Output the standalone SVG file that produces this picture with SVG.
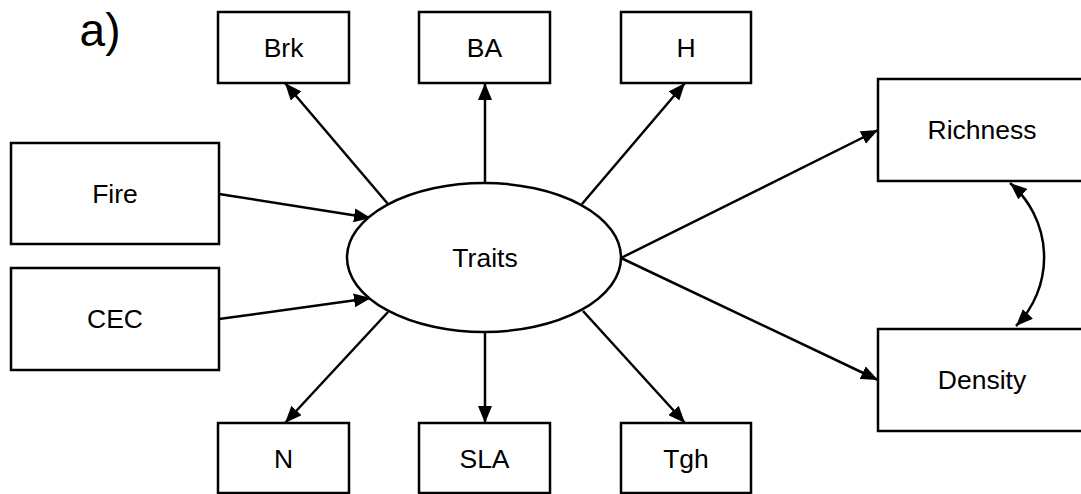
<svg xmlns="http://www.w3.org/2000/svg" width="1081" height="494" viewBox="0 0 1081 494">
  <style>
    .box { fill: #fff; stroke: #000; stroke-width: 2.5; }
    .lbl { font-family: "Liberation Sans", Arial, sans-serif; font-size: 26.5px; fill: #000; text-anchor: middle; }
    .edge { fill: none; stroke: #000; stroke-width: 2.5; }
  </style>
  <defs>
    <marker id="arrow" markerUnits="userSpaceOnUse" markerWidth="18" markerHeight="14" viewBox="0 0 18 14" refX="17" refY="7" orient="auto-start-reverse">
      <path d="M0,0 L17,7 L0,14 z" fill="#000"/>
    </marker>
  </defs>
  <rect width="1081" height="494" fill="#fff"/>

  <text x="100" y="46" font-family="Liberation Sans, Arial, sans-serif" font-size="46" fill="#000" text-anchor="middle">a)</text>

  <g id="connectors">
    <line class="edge" x1="388" y1="204" x2="285" y2="83" marker-end="url(#arrow)"/>
    <line class="edge" x1="485" y1="183" x2="485" y2="83" marker-end="url(#arrow)"/>
    <line class="edge" x1="582" y1="204" x2="685" y2="83" marker-end="url(#arrow)"/>
    <line class="edge" x1="219" y1="194" x2="371" y2="218" marker-end="url(#arrow)"/>
    <line class="edge" x1="219" y1="319" x2="371" y2="298" marker-end="url(#arrow)"/>
    <line class="edge" x1="388" y1="312" x2="285" y2="423" marker-end="url(#arrow)"/>
    <line class="edge" x1="485" y1="332" x2="485" y2="423" marker-end="url(#arrow)"/>
    <line class="edge" x1="583" y1="311" x2="685" y2="423" marker-end="url(#arrow)"/>
    <line class="edge" x1="621" y1="258" x2="878" y2="130" marker-end="url(#arrow)"/>
    <line class="edge" x1="621" y1="258" x2="878" y2="380" marker-end="url(#arrow)"/>
    <path class="edge" d="M1010,183 A98,98 0 0 1 1016,326" marker-start="url(#arrow)" marker-end="url(#arrow)"/>
  </g>

  <g id="traits">
    <ellipse class="box" cx="484" cy="257.5" rx="137" ry="74.5"/>
    <text class="lbl" x="485" y="267">Traits</text>
  </g>
  <g id="brk">
    <rect class="box" x="218" y="12" width="131" height="71"/>
    <text class="lbl" x="283.5" y="57">Brk</text>
  </g>
  <g id="ba">
    <rect class="box" x="419" y="12" width="131" height="71"/>
    <text class="lbl" x="484.5" y="57">BA</text>
  </g>
  <g id="h">
    <rect class="box" x="621" y="12" width="130" height="71"/>
    <text class="lbl" x="686" y="57">H</text>
  </g>
  <g id="fire">
    <rect class="box" x="11" y="143" width="208" height="101"/>
    <text class="lbl" x="115" y="203">Fire</text>
  </g>
  <g id="cec">
    <rect class="box" x="11" y="268" width="208" height="102"/>
    <text class="lbl" x="115" y="328">CEC</text>
  </g>
  <g id="n">
    <rect class="box" x="218" y="423" width="131" height="70"/>
    <text class="lbl" x="283.5" y="468">N</text>
  </g>
  <g id="sla">
    <rect class="box" x="419" y="423" width="131" height="70"/>
    <text class="lbl" x="484.5" y="468">SLA</text>
  </g>
  <g id="tgh">
    <rect class="box" x="621" y="423" width="130" height="70"/>
    <text class="lbl" x="686" y="468">Tgh</text>
  </g>
  <g id="richness">
    <rect class="box" x="878" y="79" width="208" height="102"/>
    <text class="lbl" x="982" y="139">Richness</text>
  </g>
  <g id="density">
    <rect class="box" x="878" y="329" width="208" height="102"/>
    <text class="lbl" x="982" y="389">Density</text>
  </g>
</svg>
